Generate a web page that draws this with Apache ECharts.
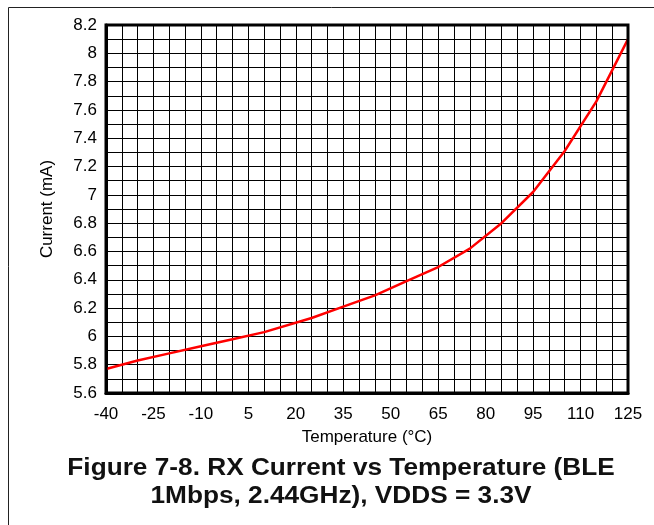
<!DOCTYPE html>
<html>
<head>
<meta charset="utf-8">
<script src="https://cdn.jsdelivr.net/npm/echarts@6/dist/echarts.min.js"></script>
<style>
html,body{margin:0;padding:0;background:#fff;}
#chart{width:654px;height:525px;}
</style>
</head>
<body>
<div id="chart"></div>
<script>
// Data
const temperatures = [-40, -30, -20, -10, 0, 10, 25, 35, 45, 55, 65, 75, 85, 95, 105, 115, 125];
const currentRx = [5.77, 5.83, 5.88, 5.93, 5.98, 6.03, 6.13, 6.21, 6.29, 6.39, 6.49, 6.62, 6.80, 7.02, 7.31, 7.66, 8.10];
const xTickLabels = [-40, -25, -10, 5, 20, 35, 50, 65, 80, 95, 110, 125];
const yTickLabels = [5.6, 5.8, 6, 6.2, 6.4, 6.6, 6.8, 7, 7.2, 7.4, 7.6, 7.8, 8, 8.2];
const xName = 'Temperature (°C)';
const yName = 'Current (mA)';
const captionLines = ['Figure 7-8. RX Current vs Temperature (BLE', '1Mbps, 2.44GHz), VDDS = 3.3V'];

const seriesData = temperatures.map((t, i) => [t, currentRx[i]]);
const font = 'Liberation Sans, Arial, sans-serif';

const chart = echarts.init(document.getElementById('chart'), null, {renderer: 'canvas'});
chart.setOption({
  backgroundColor: '#fff',
  animation: false,
  graphic: [{
    type: 'rect',
    shape: {x: 8.5, y: 7.5, width: 700, height: 600},
    style: {fill: 'none', stroke: '#222', lineWidth: 1},
    z: -10
  }, {
    type: 'rect',
    shape: {x: 106, y: 25, width: 522, height: 368},
    style: {fill: 'none', stroke: '#000', lineWidth: 3},
    z: 10
  }, {
    type: 'text', x: 341, y: 469, scaleX: 1.14,
    style: {text: captionLines[0], textAlign: 'center', textVerticalAlign: 'middle',
            font: 'bold 23px ' + font, fill: '#111'}
  }, {
    type: 'text', x: 341, y: 497, scaleX: 1.14,
    style: {text: captionLines[1], textAlign: 'center', textVerticalAlign: 'middle',
            font: 'bold 23px ' + font, fill: '#111'}
  }],
  grid: {left: 106, top: 25, right: 26, bottom: 132, show: false},
  xAxis: {
    type: 'value',
    min: -40, max: 125, interval: 5,
    name: xName, nameLocation: 'middle', nameGap: 36,
    nameTextStyle: {fontFamily: font, fontSize: 17, color: '#000'},
    axisLine: {show: true, onZero: false, lineStyle: {color: '#000', width: 3}},
    axisTick: {show: false},
    axisLabel: {
      fontFamily: font, fontSize: 17, color: '#000', margin: 13,
      showMinLabel: true, showMaxLabel: true,
      formatter: v => xTickLabels.some(t => Math.abs(t - v) < 1e-6) ? String(Math.round(v)) : ''
    },
    splitLine: {show: true, lineStyle: {color: '#000', width: 1}}
  },
  yAxis: {
    type: 'value',
    min: 5.6, max: 8.2, interval: 0.1,
    name: yName, nameLocation: 'middle', nameGap: 50, nameRotate: 90,
    nameTextStyle: {fontFamily: font, fontSize: 17, color: '#000'},
    axisLine: {show: true, onZero: false, lineStyle: {color: '#000', width: 3}},
    axisTick: {show: false},
    axisLabel: {
      fontFamily: font, fontSize: 17, color: '#000', margin: 9,
      showMinLabel: true, showMaxLabel: true,
      formatter: v => {
        const r = Math.round(v * 10) / 10;
        return yTickLabels.some(t => Math.abs(t - r) < 1e-6) ? String(r) : '';
      }
    },
    splitLine: {show: true, lineStyle: {color: '#000', width: 1}}
  },
  series: [{
    type: 'line',
    data: seriesData,
    showSymbol: false,
    smooth: false,
    lineStyle: {color: '#ff0000', width: 2.5},
    z: 5
  }]
});
</script>
</body>
</html>
